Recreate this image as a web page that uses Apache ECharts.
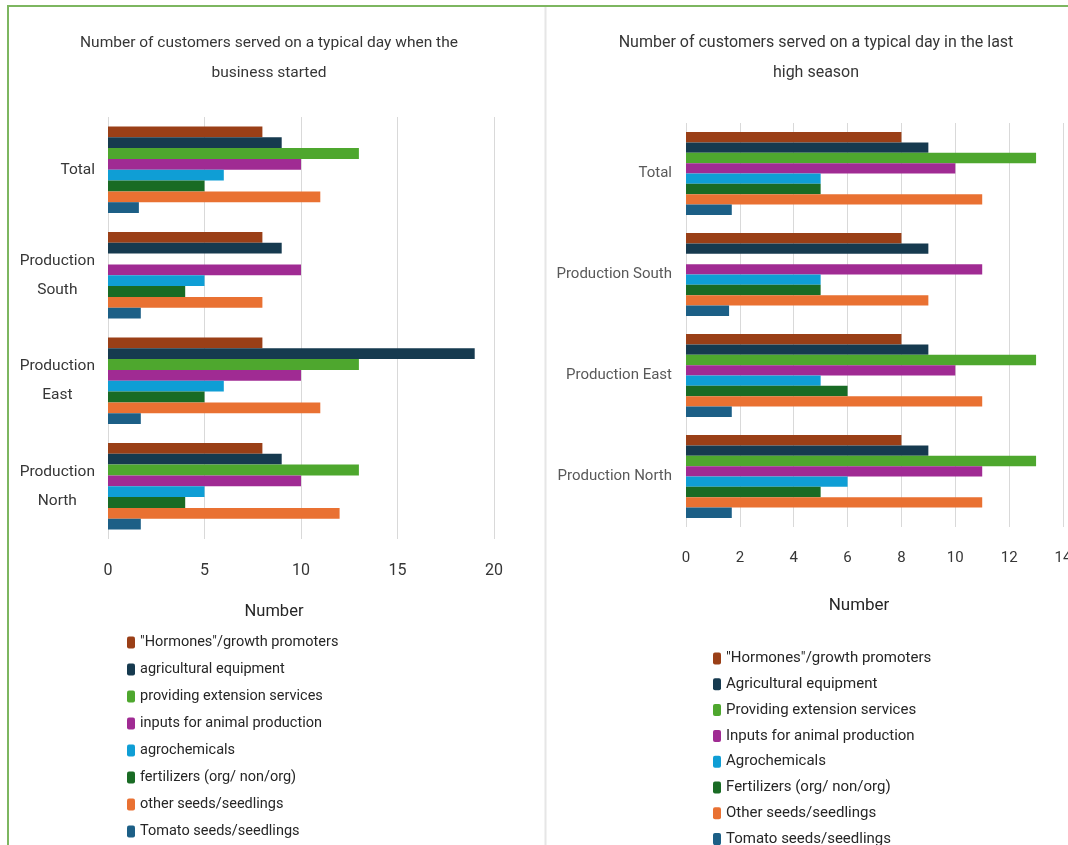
<!DOCTYPE html>
<html><head><meta charset="utf-8">
<script src="https://cdn.jsdelivr.net/npm/echarts@6/dist/echarts.min.js"></script>
<style>html,body{margin:0;padding:0;background:#fff}#c{width:1068px;height:845px}</style>
</head><body><div id="c"></div>
<script>
// ---- data ----
const categories = ['Total', 'Production South', 'Production East', 'Production North'];
const leftSeriesNames = ['"Hormones"/growth promoters', 'agricultural equipment', 'providing extension services', 'inputs for animal production', 'agrochemicals', 'fertilizers (org/ non/org)', 'other seeds/seedlings', 'Tomato seeds/seedlings'];
const rightSeriesNames = ['"Hormones"/growth promoters', 'Agricultural equipment', 'Providing extension services', 'Inputs for animal production', 'Agrochemicals', 'Fertilizers (org/ non/org)', 'Other seeds/seedlings', 'Tomato seeds/seedlings'];

// When the business started (Total, South, East, North)
const startedHormones = [8, 8, 8, 8];
const startedEquipment = [9, 9, 19, 9];
const startedExtension = [13, null, 13, 13];
const startedAnimal = [10, 10, 10, 10];
const startedAgrochem = [6, 5, 6, 5];
const startedFertilizers = [5, 4, 5, 4];
const startedOtherSeeds = [11, 8, 11, 12];
const startedTomato = [1.6, 1.7, 1.7, 1.7];

// Last high season (Total, South, East, North)
const highHormones = [8, 8, 8, 8];
const highEquipment = [9, 9, 9, 9];
const highExtension = [13, null, 13, 13];
const highAnimal = [10, 11, 10, 11];
const highAgrochem = [5, 5, 5, 6];
const highFertilizers = [5, 5, 6, 5];
const highOtherSeeds = [11, 9, 11, 11];
const highTomato = [1.7, 1.6, 1.7, 1.7];

const leftTicks = { min: 0, max: 20, interval: 5 };
const rightTicks = { min: 0, max: 14, interval: 2 };

const titleLeft = 'Number of customers served on a typical day when the\nbusiness started';
const titleRight = 'Number of customers served on a typical day in the last\nhigh season';
const axisName = 'Number';

const colors = ['#9A3F17', '#163A4F', '#4EA72E', '#A02B93', '#0F9ED5', '#196B24', '#E97132', '#1C5F86'];

const startedData = [startedHormones, startedEquipment, startedExtension, startedAnimal, startedAgrochem, startedFertilizers, startedOtherSeeds, startedTomato];
const highData = [highHormones, highEquipment, highExtension, highAnimal, highAgrochem, highFertilizers, highOtherSeeds, highTomato];

// ---- chart ----
const FONT = 'Roboto, "Liberation Sans", sans-serif';
const chart = echarts.init(document.getElementById('c'), null, { renderer: 'canvas' });

function makeSeries(names, data, axisIdx) {
  return names.map((n, i) => ({
    name: n,
    type: 'bar',
    xAxisIndex: axisIdx,
    yAxisIndex: axisIdx,
    data: data[i],
    barGap: '0%',
    barCategoryGap: '18%',
    itemStyle: { color: colors[i] },
    animation: false
  }));
}

const option = {
  backgroundColor: '#ffffff',
  textStyle: { fontFamily: FONT },
  title: [
    { text: titleLeft, left: 264, top: 23, textAlign: 'center',
      textStyle: { fontFamily: FONT, fontSize: 15.5, lineHeight: 30, fontWeight: 'normal', color: '#363636' } },
    { text: titleRight, left: 811, top: 23, textAlign: 'center',
      textStyle: { fontFamily: FONT, fontSize: 16, lineHeight: 30, fontWeight: 'normal', color: '#363636' } },
    { text: axisName, left: 269, top: 598, textAlign: 'center',
      textStyle: { fontFamily: FONT, fontSize: 16.5, fontWeight: 'normal', color: '#262626' } },
    { text: axisName, left: 854, top: 592, textAlign: 'center',
      textStyle: { fontFamily: FONT, fontSize: 17, fontWeight: 'normal', color: '#262626' } }
  ],
  legend: [
    { data: leftSeriesNames, orient: 'vertical', left: 122, top: 630, height: 240, itemWidth: 8, itemHeight: 12,
      itemGap: 12, selectedMode: false,
      textStyle: { fontFamily: FONT, fontSize: 14.5, color: '#262626' } },
    { data: rightSeriesNames, orient: 'vertical', left: 708, top: 646, height: 240, itemWidth: 8, itemHeight: 12,
      itemGap: 10.8, selectedMode: false,
      textStyle: { fontFamily: FONT, fontSize: 15, color: '#262626' } }
  ],
  grid: [
    { left: 108, right: 574, top: 117, bottom: 306, containLabel: false, outerBoundsMode: 'none' },
    { left: 686, right: 5, top: 123, bottom: 318, containLabel: false, outerBoundsMode: 'none' }
  ],
  xAxis: [
    { type: 'value', gridIndex: 0, min: leftTicks.min, max: leftTicks.max, interval: leftTicks.interval,
      axisLine: { show: false }, axisTick: { show: false },
      splitLine: { show: true, lineStyle: { color: '#d9d9d9', width: 1 } },
      axisLabel: { margin: 24, fontFamily: FONT, fontSize: 16, color: '#363636' } },
    { type: 'value', gridIndex: 1, min: rightTicks.min, max: rightTicks.max, interval: rightTicks.interval,
      axisLine: { show: false }, axisTick: { show: false },
      splitLine: { show: true, lineStyle: { color: '#d9d9d9', width: 1 } },
      axisLabel: { margin: 24, fontFamily: FONT, fontSize: 15, color: '#363636' } }
  ],
  yAxis: [
    { type: 'category', gridIndex: 0, data: categories, inverse: true,
      axisLine: { show: false }, axisTick: { show: false }, splitLine: { show: false },
      axisLabel: { margin: 13, fontFamily: FONT, fontSize: 15.5, color: '#363636',
        formatter: v => v.split(' ').map(w => '{a|' + w + '}').join('\n'),
        rich: { a: { align: 'center', fontFamily: FONT, fontSize: 15.5, lineHeight: 29, color: '#363636' } } } },
    { type: 'category', gridIndex: 1, data: categories, inverse: true,
      axisLine: { show: false }, axisTick: { show: false }, splitLine: { show: false },
      axisLabel: { margin: 14, fontFamily: FONT, fontSize: 15, color: '#595959' } }
  ],
  series: makeSeries(leftSeriesNames, startedData, 0).concat(makeSeries(rightSeriesNames, highData, 1)),
  graphic: [
    { type: 'line', shape: { x1: 7, y1: 6, x2: 1068, y2: 6 }, style: { stroke: '#7DB660', lineWidth: 2 }, z: 100 },
    { type: 'line', shape: { x1: 8, y1: 5, x2: 8, y2: 845 }, style: { stroke: '#7DB660', lineWidth: 2 }, z: 100 },
    { type: 'line', shape: { x1: 545.5, y1: 7, x2: 545.5, y2: 845 }, style: { stroke: '#e6e6e6', lineWidth: 2 }, z: 100 }
  ]
};
chart.setOption(option);
</script>
</body></html>
